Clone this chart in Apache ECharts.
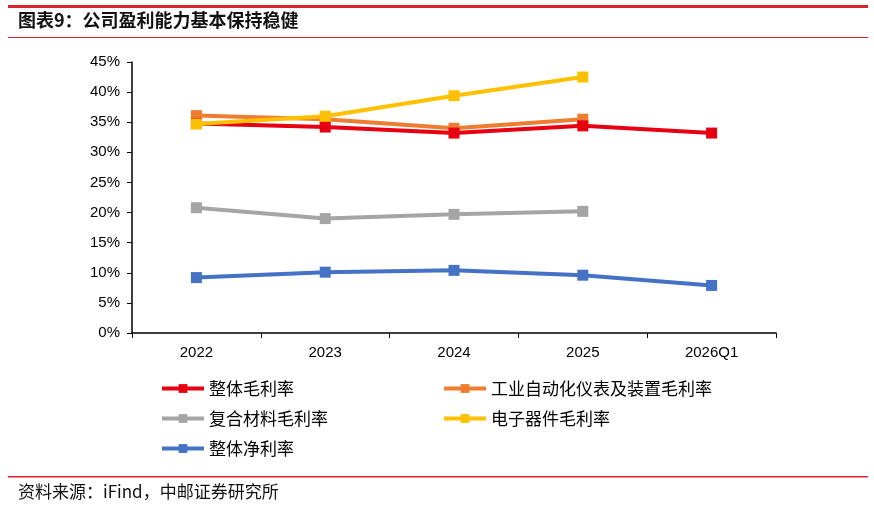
<!DOCTYPE html>
<html>
<head>
<meta charset="utf-8">
<script src="https://cdn.jsdelivr.net/npm/echarts@6/dist/echarts.min.js"></script>
<style>
  html, body { margin: 0; padding: 0; background: #fff; }
  #chart { width: 874px; height: 510px; }
</style>
</head>
<body>
<div id="chart"></div>
<script>
// 年份
const categories = ['2022', '2023', '2024', '2025', '2026Q1'];
// 各项利润率 (%)
const grossTotal = [34.8, 34.2, 33.2, 34.4, 33.2];
const grossIndustrial = [36.1, 35.5, 34.0, 35.5, null];
const grossComposite = [20.8, 19.0, 19.7, 20.2, null];
const grossElectronic = [34.7, 36.0, 39.4, 42.5, null];
const netTotal = [9.2, 10.1, 10.4, 9.6, 7.9];

const seriesNames = ['整体毛利率', '工业自动化仪表及装置毛利率', '复合材料毛利率', '电子器件毛利率', '整体净利率'];
const colors = ['#E60012', '#ED7D31', '#A5A5A5', '#FFC000', '#4472C4'];
const seriesData = [grossTotal, grossIndustrial, grossComposite, grossElectronic, netTotal];

const chart = echarts.init(document.getElementById('chart'));
const cjk = '"Noto Sans CJK SC", sans-serif';

const legendStyle = {
  orient: 'vertical',
  padding: 0,
  itemWidth: 42,
  itemHeight: 11,
  itemGap: 13,
  lineStyle: { width: 4 },
  textStyle: { fontFamily: cjk, fontSize: 17, color: '#000' }
};

const option = {
  animation: false,
  textStyle: { fontFamily: 'Arial, "Liberation Sans", sans-serif' },
  graphic: [
    { type: 'rect', shape: { x: 8, y: 5, width: 860, height: 3 }, style: { fill: '#D9262E' } },
    { type: 'text', left: 18, top: 11, style: { text: '图表9：公司盈利能力基本保持稳健', font: 'bold 18px "Noto Sans CJK SC"', fill: '#111' } },
    { type: 'rect', shape: { x: 8, y: 37, width: 860, height: 1 }, style: { fill: '#D9262E' } },
    { type: 'rect', shape: { x: 8, y: 476, width: 860, height: 1.5 }, style: { fill: '#D9262E' } },
    { type: 'text', left: 18, top: 483, style: { text: '资料来源：iFind，中邮证券研究所', font: '17px "Noto Sans CJK SC"', fill: '#111' } }
  ],
  grid: { left: 132, right: 98, top: 62, bottom: 177 },
  legend: [
    Object.assign({ left: 160, top: 380, data: ['整体毛利率', '复合材料毛利率', '整体净利率'] }, legendStyle),
    Object.assign({ left: 442, top: 380, data: ['工业自动化仪表及装置毛利率', '电子器件毛利率'] }, legendStyle)
  ],
  xAxis: {
    type: 'category',
    data: categories,
    boundaryGap: true,
    axisLine: { lineStyle: { color: '#000', width: 1.5 } },
    axisTick: { show: true, length: 5, lineStyle: { color: '#000' } },
    axisLabel: { color: '#000', fontSize: 15, margin: 12 }
  },
  yAxis: {
    type: 'value',
    min: 0,
    max: 45,
    interval: 5,
    splitLine: { show: false },
    axisLine: { show: true, lineStyle: { color: '#000', width: 1.5 } },
    axisTick: { show: true, length: 5, lineStyle: { color: '#000' } },
    axisLabel: { color: '#000', fontSize: 15, margin: 12, formatter: '{value}%' }
  },
  series: seriesNames.map((name, i) => ({
    name: name,
    type: 'line',
    data: seriesData[i],
    symbol: 'rect',
    symbolSize: 11,
    lineStyle: { width: 4, color: colors[i] },
    itemStyle: { color: colors[i] },
    z: i === 3 ? 5 : (i === 0 ? 4 : 3)
  }))
};

chart.setOption(option);
</script>
</body>
</html>
